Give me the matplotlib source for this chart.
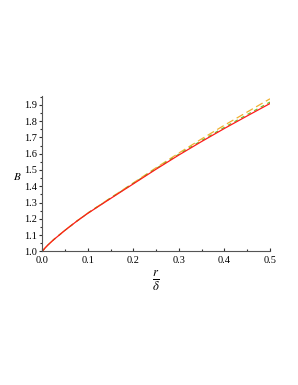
import matplotlib
matplotlib.use("Agg")
import matplotlib.pyplot as plt
from matplotlib.ticker import MultipleLocator, FormatStrFormatter

# values
r_vals = [0.0, 0.005, 0.0125, 0.025, 0.05, 0.075, 0.1, 0.15, 0.2, 0.25, 0.3, 0.35, 0.4, 0.45, 0.5]
b_red = [1.0, 1.018, 1.04, 1.072, 1.13, 1.184, 1.234, 1.325, 1.415, 1.505, 1.592, 1.675, 1.755, 1.832, 1.908]
b_green = [1.0, 1.018, 1.04, 1.072, 1.13, 1.184, 1.235, 1.327, 1.418, 1.509, 1.597, 1.681, 1.762, 1.84, 1.917]
b_orange = [1.0, 1.018, 1.04, 1.073, 1.131, 1.185, 1.236, 1.329, 1.421, 1.514, 1.604, 1.691, 1.775, 1.856, 1.937]

plt.rcParams['font.family'] = 'Liberation Serif'
plt.rcParams['mathtext.fontset'] = 'stix'

fig = plt.figure(figsize=(2.98, 3.85), dpi=100)
ax = fig.add_axes([0.142, 0.347, 0.764, 0.404])

ax.plot(r_vals, b_orange, color='#f0b030', lw=0.9, linestyle=(0, (6, 3)))
ax.plot(r_vals, b_green, color='#66cc33', lw=0.9, linestyle=(0, (3, 3)))
ax.plot(r_vals, b_red, color='#ff1a1a', lw=0.9)

ax.set_xlim(0, 0.5)
ax.set_ylim(1.0, 1.955)

for s in ['top', 'right']:
    ax.spines[s].set_visible(False)
for s in ['left', 'bottom']:
    ax.spines[s].set_color('#555555')
    ax.spines[s].set_linewidth(0.8)

ax.xaxis.set_major_locator(MultipleLocator(0.1))
ax.xaxis.set_minor_locator(MultipleLocator(0.05))
ax.yaxis.set_major_locator(MultipleLocator(0.1))
ax.yaxis.set_minor_locator(MultipleLocator(0.05))
ax.xaxis.set_major_formatter(FormatStrFormatter('%.1f'))
ax.yaxis.set_major_formatter(FormatStrFormatter('%.1f'))

ax.tick_params(axis='x', which='major', direction='in', length=2.5, width=0.8,
               color='#333333', labelsize=7.5, pad=3)
ax.tick_params(axis='x', which='minor', direction='in', length=1.5, width=0.8, color='#333333')
ax.tick_params(axis='y', which='major', direction='out', length=2.5, width=0.8,
               color='#333333', labelsize=7.5, pad=1.5)
ax.tick_params(axis='y', which='minor', direction='out', length=1.5, width=0.8, color='#333333')

ax.set_ylabel('$B$', rotation=0, fontsize=8, va='center', ha='center')
ax.yaxis.set_label_coords(-0.108, 0.48)
ax.set_xlabel(r'$\frac{r}{\delta}$', fontsize=13, labelpad=3)

fig.savefig('out.png', dpi=100)
